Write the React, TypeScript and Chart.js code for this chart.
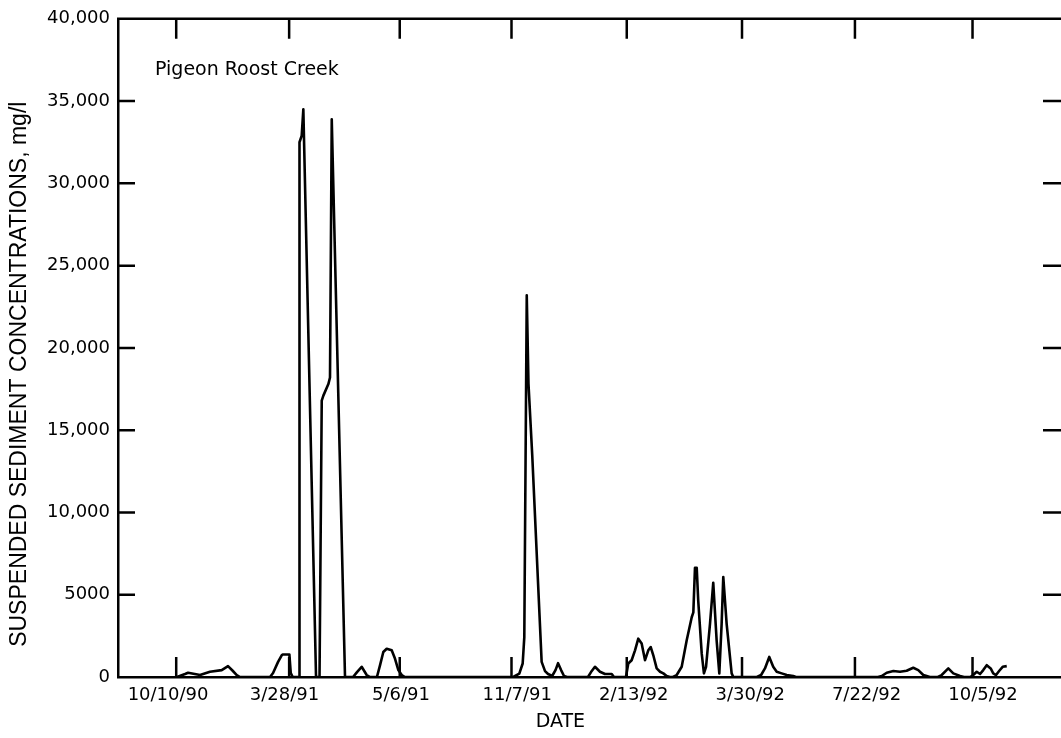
import React, { useEffect, useRef } from "react";
import { Chart, registerables } from "chart.js";

Chart.register(...registerables);

// Sample sequence positions (x axis is an index of samples, not linear time)
const SAMPLE_X: number[] = [
  107.7, 114.6, 117.2, 127.5, 136.0, 146.1, 151.5, 155.5, 159.0, 161.8,
  187.6, 190.2, 194.5, 197.6, 198.5, 204.2, 205.4, 207.1,
  212.6, 212.9, 214.8, 216.2, 227.1,
  230.1, 232.0, 233.4, 237.7, 239.1, 240.6, 252.0,
  258.9, 262.3, 266.3, 270.6, 273.5,
  279.4, 282.1, 284.9, 287.8, 292.1, 294.9, 297.8, 300.7, 303.5,
  396.5, 401.7, 404.6, 406.0, 408.1, 409.6, 412.8, 420.9, 423.8, 426.4,
  429.9, 432.8, 435.0, 437.6, 440.1, 442.7,
  460.7, 463.3, 466.7, 471.0, 475.3, 481.1, 483.0,
  493.3, 495.3, 498.2, 501.1, 503.9, 506.8, 509.7, 512.5, 514.6, 516.8,
  519.7, 522.6, 525.4, 528.3, 531.1,
  533.7, 536.9, 541.2, 545.5, 549.8, 551.2, 552.6, 554.1, 555.4, 558.4,
  560.3, 562.1, 565.5, 568.3, 571.2, 573.5, 575.5, 576.9, 579.8, 584.1, 585.5,
  605.8, 609.4, 612.7, 616.4, 619.8, 622.8, 627.1, 631.4, 637.0, 639.3,
  709.8, 713.0, 717.3, 723.0, 728.7, 734.4, 740.1, 744.4, 748.7, 751.6, 754.4,
  761.3, 764.5, 770.2, 774.5, 780.3, 783.7,
  789.0, 791.6, 794.6, 797.5, 800.2, 803.2, 806.6, 808.8, 811.2, 814.0, 816.9, 820.4,
];

// Suspended sediment concentration, mg/l
const SSC_MGL: number[] = [
  0, 180, 260, 120, 320, 420, 660, 380, 120, 0,
  0, 240, 920, 1320, 1370, 1370, 240, 0,
  0, 32500, 32900, 34500, 0,
  0, 16800, 17100, 17800, 18200, 33900, 0,
  0, 300, 620, 120, 0,
  0, 720, 1520, 1720, 1620, 1120, 420, 120, 0,
  0, 200, 820, 2420, 23200, 17800, 13500, 920, 360, 180,
  60, 420, 840, 420, 60, 0,
  0, 300, 620, 320, 180, 180, 0,
  0, 820, 1020, 1620, 2330, 2030, 1020, 1620, 1820, 1320,
  520, 320, 220, 60, 0,
  0, 120, 620, 2230, 3630, 3930, 6630, 6630, 4630, 1420,
  220, 620, 3230, 5730, 2230, 220, 3230, 6080, 3230, 220, 0,
  0, 120, 520, 1220, 620, 320, 220, 120, 60, 0,
  0, 60, 260, 360, 320, 380, 560, 420, 120, 60, 0,
  0, 120, 520, 220, 60, 0,
  0, 120, 320, 180, 420, 720, 520, 220, 120, 380, 620, 660,
];

const DATE_LABELS: string[] = [
  "10/10/90", "3/28/91", "5/6/91", "11/7/91", "2/13/92", "3/30/92", "7/22/92", "10/5/92",
];
const DATE_LABEL_POS: number[] = [100, 200, 300, 400, 500, 600, 700, 800];
const FRAME_TICKS_X: number[] = [107, 204, 299, 395, 494, 593, 690, 791];
const Y_TICKS: number[] = [5000, 10000, 15000, 20000, 25000, 30000, 35000];

const TITLE_TEXT = "Pigeon Roost Creek";
const Y_TITLE = "SUSPENDED SEDIMENT CONCENTRATIONS, mg/l";
const X_TITLE = "DATE";

const frameAndText = {
  id: "frameAndText",
  afterDraw(chart: any) {
    const { ctx, chartArea: a, scales } = chart;
    const x = scales.x;
    const y = scales.y;
    ctx.save();
    ctx.strokeStyle = "#000";
    ctx.lineWidth = 2.5;
    ctx.beginPath();
    ctx.moveTo(a.left - 1, a.top);
    ctx.lineTo(a.right, a.top);
    for (const v of FRAME_TICKS_X) {
      const px = x.getPixelForValue(v);
      ctx.moveTo(px, a.top);
      ctx.lineTo(px, a.top + 20);
      ctx.moveTo(px, a.bottom);
      ctx.lineTo(px, a.bottom - 20);
    }
    for (const v of Y_TICKS) {
      const py = y.getPixelForValue(v);
      ctx.moveTo(a.left, py);
      ctx.lineTo(a.left + 17, py);
      ctx.moveTo(a.right, py);
      ctx.lineTo(a.right - 18, py);
    }
    ctx.stroke();

    ctx.fillStyle = "#000";
    ctx.font = "19px 'DejaVu Sans'";
    ctx.textAlign = "left";
    ctx.textBaseline = "alphabetic";
    ctx.fillText(TITLE_TEXT, a.left + 37, a.top + 56);

    ctx.font = "19px 'DejaVu Sans'";
    ctx.textAlign = "center";
    ctx.textBaseline = "middle";
    ctx.fillText(X_TITLE, x.getPixelForValue(437), a.bottom + 45);

    ctx.save();
    ctx.translate(26, y.getPixelForValue(18400));
    ctx.rotate(-Math.PI / 2);
    ctx.font = "23px 'Liberation Sans'";
    ctx.textAlign = "center";
    ctx.textBaseline = "alphabetic";
    ctx.fillText(Y_TITLE, 0, 0);
    ctx.restore();

    ctx.restore();
  },
};

export default function App() {
  const ref = useRef<HTMLCanvasElement>(null);
  useEffect(() => {
    if (!ref.current) return;
    const points = SAMPLE_X.map((v, i) => ({ x: v, y: SSC_MGL[i] }));
    const chart = new Chart(ref.current, {
      type: "line",
      data: {
        datasets: [
          {
            data: points,
            borderColor: "#000",
            borderWidth: 2.6,
            pointRadius: 0,
            tension: 0,
            borderJoinStyle: "round",
            fill: false,
          },
        ],
      },
      options: {
        animation: false,
        responsive: false,
        devicePixelRatio: 1,
        layout: { padding: { top: 12, right: 0, left: 0, bottom: 0 } },
        plugins: {
          legend: { display: false },
          tooltip: { enabled: false },
          title: { display: false },
        },
        scales: {
          x: {
            type: "linear",
            position: "bottom",
            min: 57,
            max: 867,
            grid: { display: false, drawTicks: false },
            border: { display: true, color: "#000", width: 2.5 },
            afterBuildTicks: (scale: any) => {
              scale.ticks = DATE_LABEL_POS.map((v) => ({ value: v }));
            },
            afterFit: (scale: any) => {
              scale.height = 61;
            },
            ticks: {
              color: "#000",
              font: { family: "DejaVu Sans", size: 18 },
              padding: 8,
              maxRotation: 0,
              autoSkip: false,
              callback: (v: any) => {
                const i = DATE_LABEL_POS.indexOf(Number(v));
                return i >= 0 ? DATE_LABELS[i] : "";
              },
            },
          },
          y: {
            type: "linear",
            min: 0,
            max: 40000,
            grid: { display: false, drawTicks: false },
            border: { display: true, color: "#000", width: 2.5 },
            afterFit: (scale: any) => {
              scale.width = 118;
            },
            ticks: {
              stepSize: 5000,
              color: "#000",
              font: { family: "DejaVu Sans", size: 18 },
              padding: 8,
              callback: (v: any) => {
                const n = Number(v);
                if (n === 0) return "0";
                if (n === 5000) return "5000";
                return n.toLocaleString("en-US");
              },
            },
          },
        },
      },
      plugins: [frameAndText],
    } as any);
    return () => chart.destroy();
  }, []);
  return (
    <div style={{ position: "absolute", left: 0, top: 0, width: 1061, height: 738, background: "#fff" }}>
      <canvas ref={ref} width={1061} height={738} style={{ display: "block", width: 1061, height: 738 }} />
    </div>
  );
}
